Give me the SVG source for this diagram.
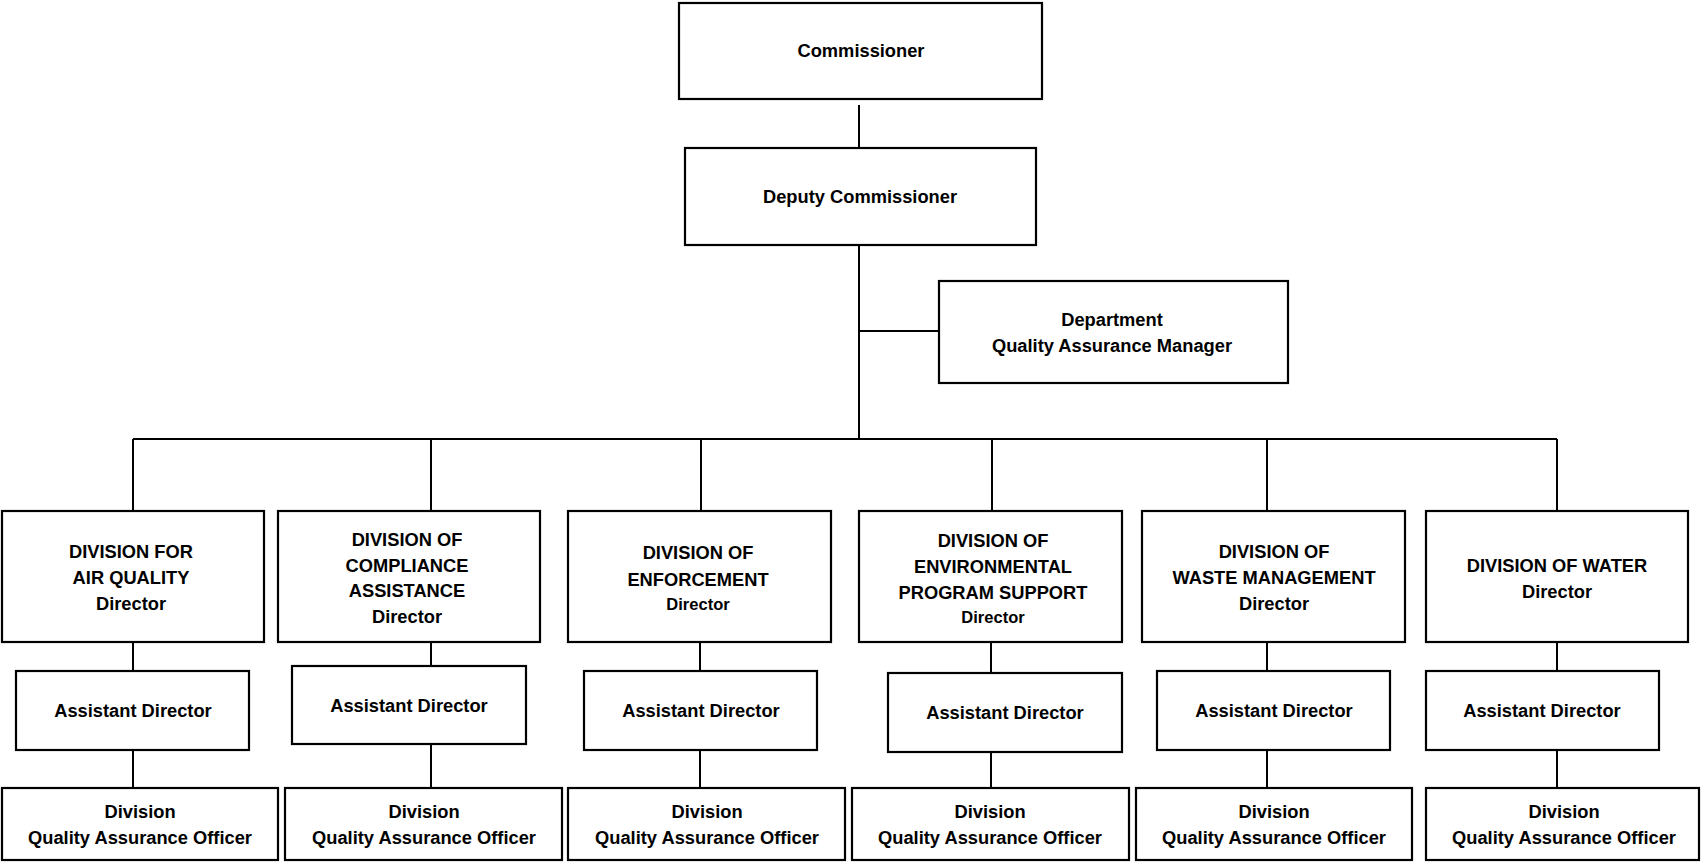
<svg xmlns="http://www.w3.org/2000/svg" width="1701" height="862" viewBox="0 0 1701 862">
<style>
rect.box{fill:#fff;stroke:#000;stroke-width:2.2}
.conn path{fill:none;stroke:#000;stroke-width:2}
text{font-family:"Liberation Sans",Arial,sans-serif;font-weight:bold;font-size:18.3px;fill:#000;text-anchor:middle}
text .sm{font-size:16.5px}
</style>
<rect width="1701" height="862" fill="#fff"/>
<g class="conn" id="connectors">
<path d="M859,105V148"/>
<path d="M859,245V439"/>
<path d="M859,331H939"/>
<path d="M133,439H1557"/>
<path d="M133,439V511M431,439V511M701,439V511M992,439V511M1267,439V511M1557,439V511"/>
<path d="M133,642V671M431,642V666M700,642V671M991,642V673M1267,642V671M1557,642V671"/>
<path d="M133,750V788M431,744V788M700,750V788M991,752V788M1267,750V788M1557,750V788"/>
</g>
<g id="commissioner"><rect class="box" x="679" y="3" width="363" height="96"/><text x="861" y="57">Commissioner</text></g>
<g id="deputy"><rect class="box" x="685" y="148" width="351" height="97"/><text x="860" y="203">Deputy Commissioner</text></g>
<g id="qa-manager"><rect class="box" x="939" y="281" width="349" height="102"/><text x="1112" y="326">Department</text><text x="1112" y="352">Quality Assurance Manager</text></g>

<g id="div-air"><rect class="box" x="2" y="511" width="262" height="131"/><text x="131" y="558">DIVISION FOR</text><text x="131" y="584">AIR QUALITY</text><text x="131" y="610">Director</text></g>
<g id="div-compliance"><rect class="box" x="278" y="511" width="262" height="131"/><text x="407" y="546">DIVISION OF</text><text x="407" y="572">COMPLIANCE</text><text x="407" y="597">ASSISTANCE</text><text x="407" y="623">Director</text></g>
<g id="div-enforcement"><rect class="box" x="568" y="511" width="263" height="131"/><text x="698" y="559">DIVISION OF</text><text x="698" y="586">ENFORCEMENT</text><text x="698" y="610" class="sm" style="font-size:16.5px">Director</text></g>
<g id="div-eps"><rect class="box" x="859" y="511" width="263" height="131"/><text x="993" y="547">DIVISION OF</text><text x="993" y="573">ENVIRONMENTAL</text><text x="993" y="599">PROGRAM SUPPORT</text><text x="993" y="623" style="font-size:16.5px">Director</text></g>
<g id="div-waste"><rect class="box" x="1142" y="511" width="263" height="131"/><text x="1274" y="558">DIVISION OF</text><text x="1274" y="584">WASTE MANAGEMENT</text><text x="1274" y="610">Director</text></g>
<g id="div-water"><rect class="box" x="1426" y="511" width="262" height="131"/><text x="1557" y="572">DIVISION OF WATER</text><text x="1557" y="598">Director</text></g>

<g id="asst-air"><rect class="box" x="16" y="671" width="233" height="79"/><text x="133" y="717">Assistant Director</text></g>
<g id="asst-compliance"><rect class="box" x="292" y="666" width="234" height="78"/><text x="409" y="712">Assistant Director</text></g>
<g id="asst-enforcement"><rect class="box" x="584" y="671" width="233" height="79"/><text x="701" y="717">Assistant Director</text></g>
<g id="asst-eps"><rect class="box" x="888" y="673" width="234" height="79"/><text x="1005" y="719">Assistant Director</text></g>
<g id="asst-waste"><rect class="box" x="1157" y="671" width="233" height="79"/><text x="1274" y="717">Assistant Director</text></g>
<g id="asst-water"><rect class="box" x="1426" y="671" width="233" height="79"/><text x="1542" y="717">Assistant Director</text></g>

<g id="qa-air"><rect class="box" x="2" y="788" width="276" height="72"/><text x="140" y="818">Division</text><text x="140" y="844">Quality Assurance Officer</text></g>
<g id="qa-compliance"><rect class="box" x="285" y="788" width="277" height="72"/><text x="424" y="818">Division</text><text x="424" y="844">Quality Assurance Officer</text></g>
<g id="qa-enforcement"><rect class="box" x="568" y="788" width="277" height="72"/><text x="707" y="818">Division</text><text x="707" y="844">Quality Assurance Officer</text></g>
<g id="qa-eps"><rect class="box" x="852" y="788" width="277" height="72"/><text x="990" y="818">Division</text><text x="990" y="844">Quality Assurance Officer</text></g>
<g id="qa-waste"><rect class="box" x="1136" y="788" width="276" height="72"/><text x="1274" y="818">Division</text><text x="1274" y="844">Quality Assurance Officer</text></g>
<g id="qa-water"><rect class="box" x="1426" y="788" width="273" height="72"/><text x="1564" y="818">Division</text><text x="1564" y="844">Quality Assurance Officer</text></g>
</svg>
